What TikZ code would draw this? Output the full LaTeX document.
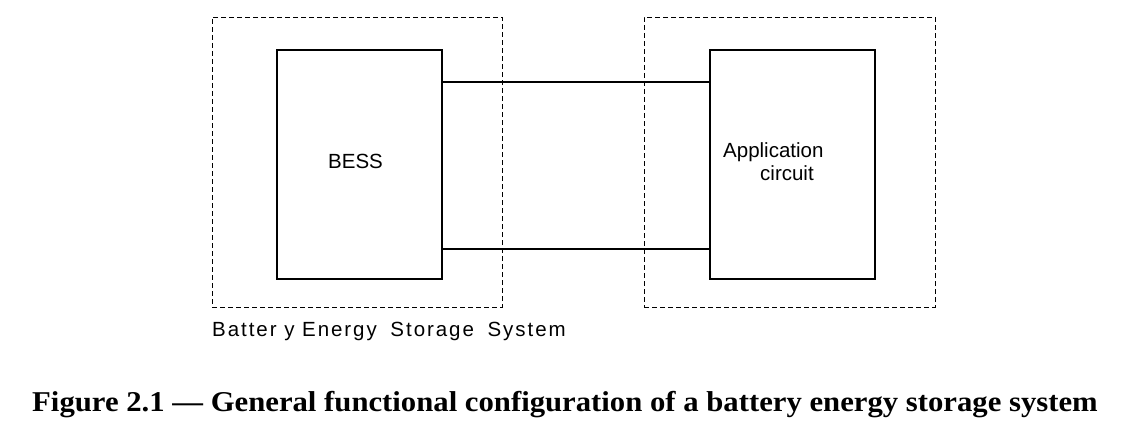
\documentclass[tikz,border=0pt]{standalone}
\usepackage{fontspec}
\setmainfont{Liberation Serif}
\newfontfamily\arialfont{Liberation Sans}
\begin{document}
\begin{tikzpicture}[x=1pt,y=-1pt,
  solidbox/.style={draw, line width=2.8pt, minimum width=165pt, minimum height=229pt, inner sep=0pt},
  dashbox/.style={draw, line width=0.9pt, dash pattern=on 5pt off 3pt, minimum height=290pt, inner sep=0pt},
  link/.style={line width=2pt},
  lbl/.style={font=\arialfont\fontsize{20.5pt}{24pt}\selectfont, inner sep=0pt}]
\useasboundingbox (0,0) rectangle (1132,436);
\node[dashbox, minimum width=290pt] (dl) at (357,162) {};
\node[dashbox, minimum width=291pt] (dr) at (789.5,162) {};
\node[solidbox] (bess) at (359.5,164.5) {};
\node[solidbox] (app) at (792.5,164.5) {};
\node[lbl, anchor=base] (besstxt) at (355.5,168) {BESS};
\node[lbl, anchor=base west] (apptxt1) at (723,157) {Application};
\node[lbl, anchor=base west] (apptxt2) at (760,180) {circuit};
\draw[link] ([yshift=-33pt]bess.north east) -- ([yshift=-33pt]app.north west);
\draw[link] ([yshift=31pt]bess.south east) -- ([yshift=31pt]app.south west);
\node[lbl, anchor=base west] (syslbl) at (212,336) {\addfontfeature{LetterSpace=9.5}Batter y Energy\hspace{6pt} Storage\hspace{6pt} System};
\node[font=\bfseries\fontsize{28.7pt}{32pt}\selectfont, inner sep=0pt, anchor=base] (cap) at (565,411) {\scalebox{1.07}[1]{Figure 2.1 — General functional configuration of a battery energy storage system}};
\end{tikzpicture}
\end{document}
